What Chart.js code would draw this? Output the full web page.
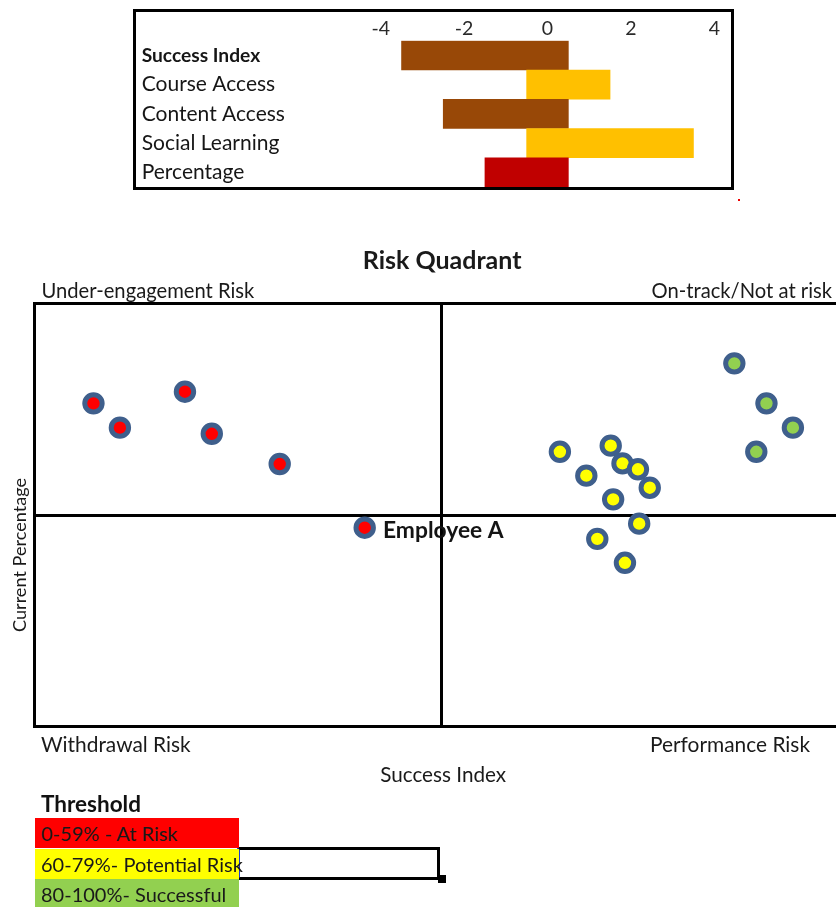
<!DOCTYPE html>
<html>
<head>
<meta charset="utf-8">
<script src="https://cdn.jsdelivr.net/npm/chart.js@4.4.0/dist/chart.umd.min.js"></script>
<style>
html,body{margin:0;padding:0;background:#fff;width:836px;height:907px;overflow:hidden;}
body{position:relative;font-family:Lato,sans-serif;}
#barBox{position:absolute;left:133px;top:9px;width:595px;height:175px;border:3px solid #000;}
#barBox canvas,#quadWrap canvas{display:block;}
#quadWrap{position:absolute;left:0;top:240px;width:836px;height:560px;}
.thr{position:absolute;left:35px;width:204px;height:30px;line-height:30px;font-size:20px;color:#1a1a1a;white-space:nowrap;box-sizing:border-box;padding-left:6px;}
#thrTitle{position:absolute;left:41px;top:789px;height:30px;line-height:30px;font-size:22.5px;font-weight:bold;color:#111;}
#sel{position:absolute;left:237px;top:847px;width:203px;height:33px;box-sizing:border-box;border:3px solid #000;border-left-color:#1c3cd6;}
#handle{position:absolute;left:438px;top:875px;width:8px;height:8px;background:#000;}
#dot{position:absolute;left:738px;top:199px;width:2px;height:2px;background:#e00;}
</style>
</head>
<body>
<div id="barBox"><canvas id="bar" width="595" height="175"></canvas></div>
<div id="dot"></div>
<div id="quadWrap"><canvas id="quad" width="836" height="560"></canvas></div>
<div id="thrTitle"></div>
<div id="sel"></div>
<div id="thrRows"></div>
<div id="handle"></div>
<script>
// ---------------- data ----------------
const barCategories = ['Success Index', 'Course Access', 'Content Access', 'Social Learning', 'Percentage'];
const barStart = [-3.5, -0.5, -2.5, -0.5, -1.5];
const barEnd = [0.5, 1.5, 0.5, 3.5, 0.5];
const barTickValues = [-4, -2, 0, 2, 4];

const atRiskX = [-8.55, -7.90, -6.30, -5.64, -3.97];
const atRiskY = [5.28, 4.13, 5.83, 3.84, 2.41];
const employeeName = 'Employee A';
const employeeX = [-1.88];
const employeeY = [-0.60];
const potentialX = [2.92, 4.17, 4.46, 4.84, 3.57, 5.13, 4.23, 4.87, 3.84, 4.52];
const potentialY = [2.99, 3.28, 2.44, 2.16, 1.86, 1.29, 0.74, -0.41, -1.13, -2.26];
const successfulX = [7.21, 8.00, 8.65, 7.75];
const successfulY = [7.17, 5.28, 4.13, 2.99];

const quadTitle = 'Risk Quadrant';
const quadrantLabels = ['Under-engagement Risk', 'On-track/Not at risk', 'Withdrawal Risk', 'Performance Risk'];
const xAxisTitle = 'Success Index';
const yAxisTitle = 'Current Percentage';
const thresholdTitle = 'Threshold';
const thresholdLabels = ['0-59% - At Risk', '60-79%- Potential Risk', '80-100%- Successful'];

// ---------------- styles ----------------
const FONT = 'Lato';
const barColors = ['#984807', '#FFC000', '#984807', '#FFC000', '#C00000'];
const thresholdColors = ['#FF0000', '#FFFF00', '#92D050'];
const pointBorder = '#3F5F8C';

// ---------------- bar chart ----------------
new Chart(document.getElementById('bar'), {
  type: 'bar',
  data: {
    labels: barCategories,
    datasets: [{
      data: barCategories.map((c, i) => [barStart[i], barEnd[i]]),
      backgroundColor: barColors,
      borderWidth: 0,
      barPercentage: 1,
      categoryPercentage: 1
    }]
  },
  options: {
    indexAxis: 'y',
    responsive: false,
    animation: false,
    layout: { autoPadding: false, padding: { left: 5.7, right: 16.7, top: 0, bottom: 0 } },
    plugins: { legend: { display: false }, tooltip: { enabled: false } },
    scales: {
      x: {
        position: 'top', min: -4, max: 4,
        afterBuildTicks: s => { s.ticks = barTickValues.map(v => ({ value: v })); },
        ticks: { color: '#2a2a2a', padding: 0, font: { family: FONT, size: 19.5 } },
        grid: { display: false, drawTicks: false },
        border: { display: false },
        afterFit: s => { s.height = 28.7; s.paddingLeft = 0; s.paddingRight = 0; }
      },
      y: {
        ticks: {
          autoSkip: false, crossAlign: 'far', color: '#161616', padding: 0,
          font: c => ({ family: FONT, size: c.index === 0 ? 19.2 : 21, weight: c.index === 0 ? 'bold' : 'normal' })
        },
        grid: { display: false, drawTicks: false },
        border: { display: false },
        afterFit: s => { s.width = 239; s.paddingTop = 0; s.paddingBottom = 0; }
      }
    }
  }
});

// ---------------- quadrant chart ----------------
const toPts = (xs, ys) => xs.map((x, i) => ({ x: x, y: ys[i] }));
const ptStyle = (fill) => ({
  pointRadius: 8.7, pointHoverRadius: 8.7, pointBorderWidth: 5,
  pointBackgroundColor: fill, pointBorderColor: pointBorder
});

const quadText = {
  id: 'quadText',
  afterDraw(chart) {
    const ctx = chart.ctx, a = chart.chartArea;
    const xs = chart.scales.x, ys = chart.scales.y;
    const cx = xs.getPixelForValue(0), cy = ys.getPixelForValue(0);
    ctx.save();
    ctx.fillStyle = '#1a1a1a';
    ctx.textBaseline = 'alphabetic';
    ctx.font = 'bold 25px ' + FONT;
    ctx.textAlign = 'center';
    ctx.fillText(quadTitle, cx + 1, a.top - 35);
    ctx.font = '20.2px ' + FONT;
    ctx.textAlign = 'left';
    ctx.fillText(quadrantLabels[0], a.left + 7, a.top - 6);
    ctx.textAlign = 'right';
    ctx.fillText(quadrantLabels[1], a.right - 4, a.top - 6);
    ctx.font = '20.9px ' + FONT;
    ctx.textAlign = 'left';
    ctx.fillText(quadrantLabels[2], a.left + 6.5, a.bottom + 25.5);
    ctx.textAlign = 'right';
    ctx.fillText(quadrantLabels[3], a.right - 26, a.bottom + 25.5);
    ctx.font = '20.7px ' + FONT;
    ctx.textAlign = 'center';
    ctx.fillText(xAxisTitle, cx + 2, a.bottom + 55.5);
    ctx.save();
    ctx.translate(a.left - 14.5, cy + 40);
    ctx.rotate(-Math.PI / 2);
    ctx.textBaseline = 'middle';
    ctx.font = '18.1px ' + FONT;
    ctx.fillText(yAxisTitle, 0, 0);
    ctx.restore();
    // employee label next to its point
    const el = chart.getDatasetMeta(1).data[0];
    ctx.font = 'bold 22.8px ' + FONT;
    ctx.textAlign = 'left';
    ctx.fillStyle = '#141414';
    ctx.fillText(employeeName, el.x + 18.3, el.y + 10.6);
    ctx.restore();
  }
};

const lineCol = (vals) => c => vals.includes(c.tick.value) ? '#000' : 'rgba(0,0,0,0)';

new Chart(document.getElementById('quad'), {
  type: 'scatter',
  data: {
    datasets: [
      Object.assign({ data: toPts(atRiskX, atRiskY) }, ptStyle('#FF0000')),
      Object.assign({ data: toPts(employeeX, employeeY) }, ptStyle('#FF0000')),
      Object.assign({ data: toPts(potentialX, potentialY) }, ptStyle('#FFFF00')),
      Object.assign({ data: toPts(successfulX, successfulY) }, ptStyle('#92D050'))
    ]
  },
  options: {
    responsive: false,
    animation: false,
    layout: { autoPadding: false, padding: { top: 63.5, left: 0, right: 0, bottom: 0 } },
    plugins: { legend: { display: false }, tooltip: { enabled: false } },
    scales: {
      x: {
        type: 'linear', min: -10, max: 9.71,
        ticks: { display: false, stepSize: 10 },
        grid: { color: lineCol([0]), lineWidth: 3, drawTicks: false },
        border: { display: true, color: '#000', width: 3 },
        afterFit: s => { s.height = 73.5; }
      },
      y: {
        type: 'linear', min: -10, max: 10,
        ticks: { display: false, stepSize: 10 },
        grid: { color: lineCol([0, 10]), lineWidth: 3, drawTicks: false },
        border: { display: true, color: '#000', width: 3 },
        afterFit: s => { s.width = 34.5; }
      }
    }
  },
  plugins: [quadText]
});

// ---------------- threshold legend ----------------
document.getElementById('thrTitle').textContent = thresholdTitle;
const rows = document.getElementById('thrRows');
thresholdLabels.forEach((t, i) => {
  const d = document.createElement('div');
  d.className = 'thr';
  d.style.top = (818.3 + i * 30.2) + 'px';
  d.style.background = thresholdColors[i];
  d.textContent = t;
  rows.appendChild(d);
});
</script>
</body>
</html>
